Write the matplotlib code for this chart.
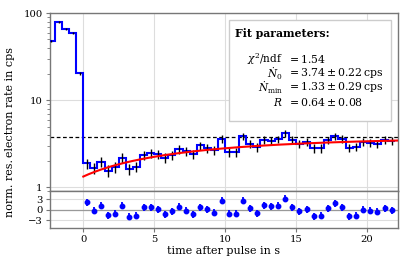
import numpy as np
import matplotlib
matplotlib.use("Agg")
import matplotlib.pyplot as plt
from matplotlib.patches import Rectangle

# ---- data ----
bin_edges_start = -2.5
bin_width = 0.5
rates = [48, 80, 66, 59, 20.5,
         1.89, 1.66, 1.98, 1.56, 1.70, 2.18, 1.63, 1.73, 2.36, 2.49,
         2.40, 2.18, 2.34, 2.74, 2.60, 2.43, 3.03, 2.82, 2.65, 3.62,
         2.53, 2.53, 3.85, 3.17, 2.89, 3.52, 3.40, 3.55, 4.20, 3.52,
         3.17, 3.31, 2.80, 2.82, 3.46, 3.85, 3.62, 2.85, 2.90, 3.31,
         3.22, 3.17, 3.52, 3.40]
rate_err = [1.26, 1.63, 1.48, 1.40, 0.83,
            0.25, 0.24, 0.26, 0.23, 0.24, 0.27, 0.23, 0.24, 0.28, 0.29,
            0.28, 0.27, 0.28, 0.30, 0.29, 0.29, 0.32, 0.31, 0.30, 0.35,
            0.29, 0.29, 0.36, 0.33, 0.31, 0.34, 0.34, 0.34, 0.37, 0.34,
            0.33, 0.33, 0.31, 0.31, 0.34, 0.36, 0.35, 0.31, 0.31, 0.33,
            0.33, 0.33, 0.34, 0.34]
residuals = [2.15, -0.28, 1.2, -1.6, -1.1, 1.1, -2.0, -1.7, 0.65, 0.65,
             0.1, -1.3, -0.47, 0.85, -0.28, -1.2, 0.75, 0.1, -0.85, 2.5,
             -1.1, -1.1, 2.6, 0.47, -1.0, 1.3, 0.93, 1.2, 3.1, 0.65,
             -0.47, 0.1, -1.8, -1.7, 0.47, 1.8, 0.75, -1.8, -1.7, 0.0,
             -0.28, -0.56, 0.37, -0.1]
N0 = 3.74
Nmin = 1.33
tau_fit = 10.5

W, H = 415, 260
plt.rcParams['font.family'] = ['DejaVu Serif']
plt.rcParams['mathtext.fontset'] = 'dejavuserif'
plt.rcParams['font.size'] = 7.0

fig = plt.figure(figsize=(W / 100, H / 100), dpi=100)
L, R = 49.5 / W, 398 / W
ax = fig.add_axes([L, 1 - 191.3 / H, R - L, (191.3 - 13.3) / H])
axr = fig.add_axes([L, 1 - 228.3 / H, R - L, (228.3 - 191.3) / H], sharex=ax)

edges = bin_edges_start + bin_width * np.arange(len(rates) + 1)
centers = 0.5 * (edges[:-1] + edges[1:])

grid_c = '#dddddd'
spine_c = '#777777'

ax.stairs(rates, edges, color='#0000ff', lw=1.5, baseline=None, zorder=3)
ax.errorbar(centers, rates, yerr=rate_err, fmt='none', ecolor='black',
            elinewidth=1.0, capsize=0, zorder=4)
ax.axhline(N0, color='black', lw=0.9, dashes=(3, 2), zorder=2)
tfit = np.linspace(0, 22.3, 300)
ax.plot(tfit, N0 - (N0 - Nmin) * np.exp(-tfit / tau_fit), color='red', lw=1.5, zorder=5)

ax.set_yscale('log')
ax.set_ylim(0.9, 100)
ax.set_xlim(-2.385, 22.2)
ax.set_yticks([1, 10, 100])
ax.set_yticklabels(['1', '10', '100'])
ax.grid(True, which='major', color=grid_c, lw=0.8, zorder=0)
ax.set_axisbelow(True)
ax.tick_params(axis='x', which='both', bottom=False, labelbottom=False)
ax.tick_params(axis='y', which='major', length=3, direction='out', color=spine_c,
               pad=2, labelsize=7.2)
ax.tick_params(axis='y', which='minor', length=2, direction='out', color=spine_c, labelleft=False)
ax.set_ylabel('electron rate in cps', fontsize=8.0)
ax.yaxis.set_label_coords(-0.099, 0.5)

res_t = centers[5:]
axr.errorbar(res_t, residuals, yerr=1.0, fmt='o', color='#0000ff', ms=3.2,
             elinewidth=1.3, capsize=0, zorder=4)
axr.axhline(0, color='#999999', lw=0.9, zorder=1)
axr.set_ylim(-5.2, 5.2)
axr.set_yticks([-3, 0, 3])
axr.set_yticklabels(['\u22123', '0', '3'])
axr.set_xticks([0, 5, 10, 15, 20])
axr.grid(True, color=grid_c, lw=0.8, zorder=0)
axr.set_axisbelow(True)
axr.tick_params(length=3, direction='out', color=spine_c, pad=2, labelsize=7.2)
axr.set_ylabel('norm. res.', fontsize=8.0)
axr.yaxis.set_label_coords(-0.099, 1.1)
axr.set_xlabel('time after pulse in s', labelpad=1, fontsize=8.0)

for a in (ax, axr):
    for s in a.spines.values():
        s.set_color(spine_c)
        s.set_linewidth(1.0)

# fit parameter box
def fx(px):
    return px / W

def fy(py):
    return 1 - py / H

box = Rectangle((fx(229), fy(121)), fx(391) - fx(229), fy(20) - fy(121),
                transform=fig.transFigure, facecolor='white', edgecolor='#cccccc',
                lw=1.0, zorder=10)
fig.patches.append(box)
fig.text(fx(235), fy(33.5), 'Fit parameters:', fontweight='bold', ha='left',
         va='center', zorder=11, fontsize=7.8)
rows = [(r'$\chi^2/\mathrm{ndf}$', r'$=1.54$'),
        (r'$\dot{N}_0$', r'$=3.74\pm0.22\,\mathrm{cps}$'),
        (r'$\dot{N}_{\mathrm{min}}$', r'$=1.33\pm0.29\,\mathrm{cps}$'),
        (r'$R$', r'$=0.64\pm0.08$')]
ys = [59, 73.3, 87.5, 101.7]
for (lt, rt), yy in zip(rows, ys):
    fig.text(fx(283), fy(yy), lt, ha='right', va='center', zorder=11, fontsize=7.6)
    fig.text(fx(287), fy(yy), rt, ha='left', va='center', zorder=11, fontsize=7.8)

fig.savefig('out.png', dpi=100)
